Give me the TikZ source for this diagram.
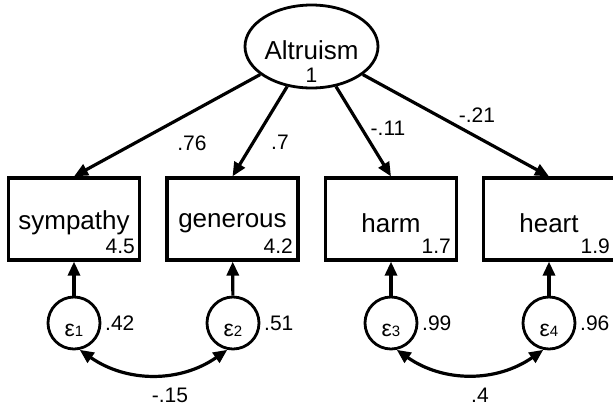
\documentclass[tikz,border=0pt]{standalone}
\usepackage{fontspec}
\setmainfont{Liberation Sans}
\usetikzlibrary{arrows.meta,shapes.geometric,calc}
\begin{document}
\begin{tikzpicture}[x=1pt,y=-1pt,
  big/.style={font=\fontsize{26}{26}\selectfont, inner sep=0pt},
  num/.style={font=\fontsize{21}{21}\selectfont, inner sep=0pt},
  eps/.style={font=\fontsize{23}{23}\selectfont, inner sep=0pt},
  obsbox/.style={draw, line width=3.2pt, minimum width=131pt, minimum height=82pt, inner sep=0pt},
  errc/.style={draw, circle, line width=2.8pt, minimum size=52pt, inner sep=0pt},
  latent/.style={draw, ellipse, line width=2.8pt, minimum width=133pt, minimum height=83pt, inner sep=0pt},
  path/.style={line width=3.2pt, -{Triangle[length=14pt,width=12pt]}},
  cov/.style={line width=3.2pt, {Triangle[length=14pt,width=12pt]}-{Triangle[length=14pt,width=12pt]}}
]
\useasboundingbox (0,0) rectangle (613,408);
\clip (0,0) rectangle (613,408);
\fill[white] (0,0) rectangle (613,408);

% latent
\node[latent] (alt) at (311.5,46.5) {};
\node[big] (altname) at (311.5,50) {Altruism};
\node[num] (altvar) at (311.5,75) {1};

% observed boxes
\node[obsbox] (sym) at (74,219) {};
\node[obsbox] (gen) at (232.5,219) {};
\node[obsbox] (harm) at (391,219) {};
\node[obsbox] (heart) at (549,219) {};

\node[big] (symt) at (74,223) {sympathy};
\node[big] (gent) at (232.5,223) {generous};
\node[big] (harmt) at (391,223) {harm};
\node[big] (heartt) at (549,223) {heart};

\node[num, anchor=base east] (symn) at (135,253) {4.5};
\node[num, anchor=base east] (genn) at (293,253) {4.2};
\node[num, anchor=base east] (harmn) at (451,253) {1.7};
\node[num, anchor=base east] (heartn) at (610,253) {1.9};

% error circles
\node[errc] (e1) at (74,323) {};
\node[errc] (e2) at (233,323) {};
\node[errc] (e3) at (391,323) {};
\node[errc] (e4) at (549,323) {};

\node[eps, anchor=base] (e1lab) at (74,336) {ε\fontsize{15}{15}\selectfont 1};
\node[eps, anchor=base] (e2lab) at (233,336) {ε\fontsize{15}{15}\selectfont 2};
\node[eps, anchor=base] (e3lab) at (391,336) {ε\fontsize{15}{15}\selectfont 3};
\node[eps, anchor=base] (e4lab) at (549,336) {ε\fontsize{15}{15}\selectfont 4};

\node[num, anchor=west] (e1v) at (105,323) {.42};
\node[num, anchor=west] (e2v) at (264,323) {.51};
\node[num, anchor=west] (e3v) at (422,323) {.99};
\node[num, anchor=west] (e4v) at (580,323) {.96};

% loadings
\draw[path] (alt) -- (sym.north);
\draw[path] (alt) -- (gen.north);
\draw[path] (alt) -- (harm.north);
\draw[path] (alt) -- (heart.north);

\node[num] (l1) at (192,143) {.76};
\node[num] (l2) at (280,142) {.7};
\node[num] (l3) at (388,128) {-.11};
\node[num] (l4) at (477,115) {-.21};

% error paths
\draw[path] (e1) -- (sym);
\draw[path] (e2) -- (gen);
\draw[path] (e3) -- (harm);
\draw[path] (e4) -- (heart);

% covariances
\draw[cov] (e1.-78) to[out=-35,in=-145] (e2.-102);
\draw[cov] (e3.-78) to[out=-35,in=-145] (e4.-102);
\node[num] (c12) at (170,395) {-.15};
\node[num] (c34) at (480,395) {.4};
\end{tikzpicture}
\end{document}
